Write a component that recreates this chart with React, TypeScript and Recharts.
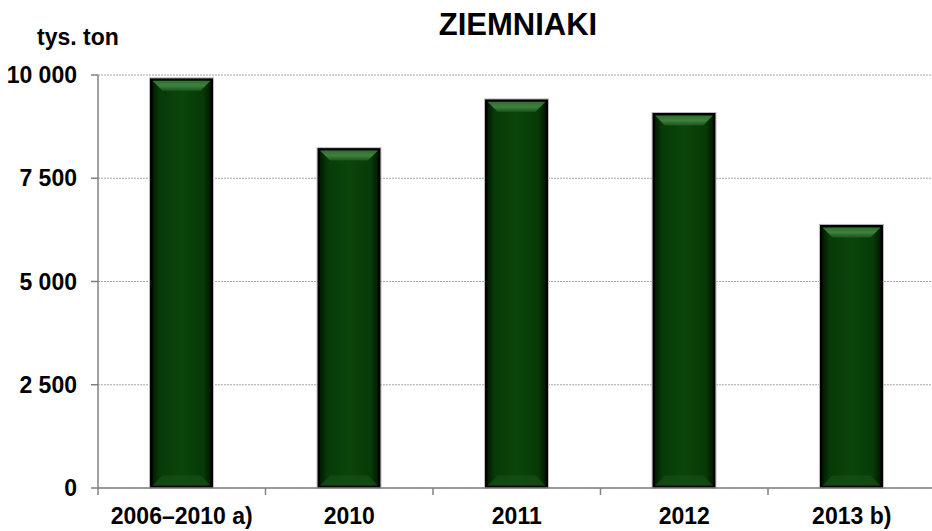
import React from "react";
import { BarChart, Bar, XAxis, YAxis, CartesianGrid } from "recharts";

const categories = ["2006–2010 a)", "2010", "2011", "2012", "2013 b)"];
const production = [9920, 8230, 9410, 9080, 6370];
const yTicks = [0, 2500, 5000, 7500, 10000];

const data = categories.map((name, i) => ({ name, value: production[i] }));

const CHART_W = 940;
const CHART_H = 531;
const M = { top: 75, right: 4.5, left: 0, bottom: 0 };
const Y_W = 98;
const HALF_BAND = (CHART_W - M.left - M.right - Y_W) / categories.length / 2;
const FONT = "Arial, 'Liberation Sans', sans-serif";

const fmt = (v: number) => String(v).replace(/\B(?=(\d{3})+(?!\d))/g, " ");

const BevelBar = (props: any) => {
  const { x, y, width, height } = props;
  if (!height || height <= 0) return null;
  const t = 2.5;
  const ix = x + t;
  const iy = y + t;
  const iw = width - 2 * t;
  const ih = height - 2 * t;
  const b = 10;
  return (
    <g>
      <rect x={x - 0.5} y={y - 0.5} width={width + 1} height={height + 1} fill="none" stroke="#bdbdbd" strokeWidth={1} />
      <rect x={x} y={y} width={width} height={height} fill="#000" />
      <rect x={ix} y={iy} width={iw} height={ih} fill="url(#bodyGrad)" />
      <polygon
        points={`${ix},${iy} ${ix + iw},${iy} ${ix + iw - b},${iy + b} ${ix + b},${iy + b}`}
        fill="url(#topGrad)"
      />
      <polygon
        points={`${ix},${iy + ih} ${ix + iw},${iy + ih} ${ix + iw - b},${iy + ih - b} ${ix + b},${iy + ih - b}`}
        fill="#154d15"
        opacity={0.8}
      />
    </g>
  );
};

const XTick = (props: any) => {
  const { x, y, payload } = props;
  return (
    <g>
      <line x1={x - HALF_BAND} y1={y - 8} x2={x - HALF_BAND} y2={y - 1} stroke="#808080" strokeWidth={1.5} />
      {payload.index === categories.length - 1 && (
        <line x1={x + HALF_BAND} y1={y - 8} x2={x + HALF_BAND} y2={y - 1} stroke="#808080" strokeWidth={1.5} />
      )}
      <text x={x} y={y + 28} textAnchor="middle" fontSize={23} fontWeight="bold" fill="#000" fontFamily={FONT}>
        {payload.value}
      </text>
    </g>
  );
};

export default function App() {
  return (
    <div style={{ position: "absolute", left: 0, top: 0, width: 932, height: 531, overflow: "hidden", background: "#fff" }}>
      <div style={{ position: "absolute", left: 0, top: 0 }}>
        <BarChart width={CHART_W} height={CHART_H} data={data} margin={M} barSize={63}>
          <defs>
            <linearGradient id="bodyGrad" x1="0" y1="0" x2="1" y2="0">
              <stop offset="0" stopColor="#021a02" />
              <stop offset="0.12" stopColor="#073a07" />
              <stop offset="0.5" stopColor="#0b450b" />
              <stop offset="0.88" stopColor="#073a07" />
              <stop offset="1" stopColor="#021a02" />
            </linearGradient>
            <linearGradient id="topGrad" x1="0" y1="0" x2="0" y2="1">
              <stop offset="0" stopColor="#2f6e2f" />
              <stop offset="0.5" stopColor="#3f803f" />
              <stop offset="1" stopColor="#1a561a" />
            </linearGradient>
          </defs>
          <text x={518} y={35} textAnchor="middle" fontSize={31} fontWeight="bold" fontFamily={FONT}>
            ZIEMNIAKI
          </text>
          <text x={37} y={45} fontSize={23} fontWeight="bold" fontFamily={FONT}>
            tys. ton
          </text>
          <CartesianGrid vertical={false} stroke="#a6a6a6" strokeDasharray="2 1" />
          <XAxis
            dataKey="name"
            height={43}
            axisLine={{ stroke: "#808080", strokeWidth: 1.5 }}
            tickLine={false}
            tick={<XTick />}
            interval={0}
          />
          <YAxis
            width={Y_W}
            domain={[0, 10000]}
            ticks={yTicks}
            tickFormatter={fmt}
            axisLine={{ stroke: "#808080", strokeWidth: 1.5 }}
            tickLine={{ stroke: "#808080", strokeWidth: 1.5 }}
            tickSize={7}
            tickMargin={14}
            tick={{ fontSize: 23, fontWeight: "bold", fill: "#000", fontFamily: FONT }}
          />
          <Bar dataKey="value" shape={<BevelBar />} isAnimationActive={false} />
        </BarChart>
      </div>
    </div>
  );
}
